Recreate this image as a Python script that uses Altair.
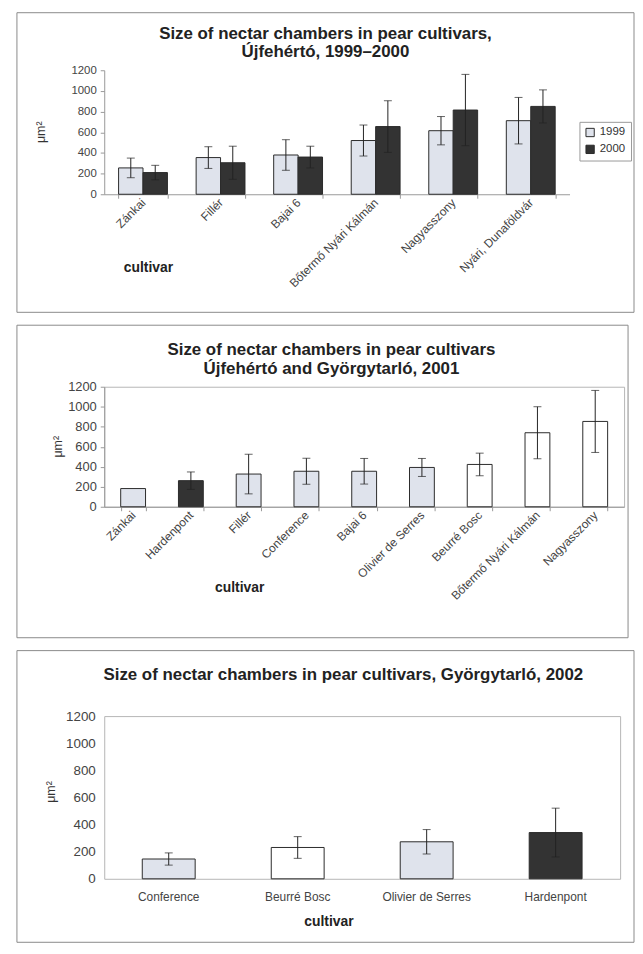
import altair as alt
import pandas as pd

# ---------------- data ----------------
years = ["1999", "2000"]

p1_cultivars = ["Zánkai", "Fillér", "Bajai 6", "Bőtermő Nyári Kálmán",
                "Nagyasszony", "Nyári, Dunaföldvár"]
p1_mean_1999 = [255, 355, 380, 520, 615, 712]
p1_err_1999 = [95, 105, 148, 150, 137, 225]
p1_mean_2000 = [210, 305, 360, 655, 815, 850]
p1_err_2000 = [70, 160, 105, 250, 345, 160]

p2_cultivars = ["Zánkai", "Hardenpont", "Fillér", "Conference", "Bajai 6",
                "Olivier de Serres", "Beurré Bosc", "Bőtermő Nyári Kálmán",
                "Nagyasszony"]
p2_mean = [182, 261, 327, 355, 355, 393, 423, 740, 853]
p2_err = [None, 87, 198, 130, 128, 90, 113, 260, 310]

p3_cultivars = ["Conference", "Beurré Bosc", "Olivier de Serres", "Hardenpont"]
p3_mean = [146, 231, 273, 341]
p3_err = [45, 80, 90, 180]

y_ticks = [0, 200, 400, 600, 800, 1000, 1200]

title1 = ["Size of nectar chambers in pear cultivars,", "Újfehértó, 1999–2000"]
title2 = ["Size of nectar chambers in pear cultivars", "Újfehértó and Györgytarló, 2001"]
title3 = "Size of nectar chambers in pear cultivars, Györgytarló, 2002"

# ---------------- styles ----------------
FONT = "Liberation Sans"
LIGHT = "#dfe3ec"
DARK = "#333333"
WHITE = "#ffffff"
EDGE = "#2b2b2b"
BOX = "#8a8a8a"
shade = {"Zánkai": LIGHT, "Hardenpont": DARK, "Fillér": LIGHT,
         "Conference": LIGHT, "Bajai 6": LIGHT, "Olivier de Serres": LIGHT,
         "Beurré Bosc": WHITE, "Bőtermő Nyári Kálmán": WHITE,
         "Nagyasszony": WHITE}

box_data = pd.DataFrame({"k": [0]})
y_scale = alt.Scale(domain=[0, 1200], nice=False, zero=True)


def frame(x0, x1, y0, y1):
    return alt.Chart(box_data).mark_rect(
        fill="transparent", stroke=BOX, strokeWidth=1
    ).encode(x=alt.value(x0), x2=alt.value(x1), y=alt.value(y0), y2=alt.value(y1))


def heading(text, x, y, size=17):
    return alt.Chart(box_data).mark_text(
        fontSize=size, fontWeight="bold", font=FONT, color="#222",
        align="center", baseline="middle"
    ).encode(x=alt.value(x), y=alt.value(y), text=alt.value(text))


def y_axis(tx, ty, label_size, ticks=True, domain=True, pad=4):
    return alt.Axis(values=y_ticks, format="d", labelOverlap=False,
                    title="μm²", titleX=tx, titleY=ty,
                    titleAngle=-90, titleAlign="center", titleBaseline="middle",
                    titleFontSize=12.5, titleFontWeight="normal", titleColor="#333",
                    labelFontSize=label_size, labelColor="#444", labelPadding=pad,
                    ticks=ticks, tickSize=4, tickColor="#999",
                    domain=domain, domainColor="#999", grid=False)


def x_axis_rot(tx, ty):
    return alt.Axis(title="cultivar", titleX=tx, titleY=ty,
                    titleAlign="center", titleBaseline="middle",
                    titleFontSize=14, titleFontWeight="bold", titleColor="#222",
                    labelAngle=-45, labelAlign="right", labelBaseline="middle",
                    labelFontSize=12, labelColor="#444", labelPadding=2,
                    labelOverlap=False, tickBand="extent", tickSize=4,
                    tickColor="#999", domainColor="#999")


def error_layers(df, x, ax, xo=None):
    enc = {"x": x}
    if xo is not None:
        enc["xOffset"] = xo
    rule = alt.Chart(df).mark_rule(color="#222", strokeWidth=1).encode(
        y=alt.Y("lo:Q", scale=y_scale, axis=ax), y2="hi:Q", **enc)
    cap_hi = alt.Chart(df).mark_tick(color="#222", size=8, thickness=1).encode(
        y=alt.Y("hi:Q", scale=y_scale, axis=ax), **enc)
    cap_lo = alt.Chart(df).mark_tick(color="#222", size=8, thickness=1).encode(
        y=alt.Y("lo:Q", scale=y_scale, axis=ax), **enc)
    return [rule, cap_hi, cap_lo]


# ---------------- panel 1 ----------------
df1 = pd.DataFrame({
    "cultivar": p1_cultivars * 2,
    "year": [years[0]] * len(p1_cultivars) + [years[1]] * len(p1_cultivars),
    "mean": p1_mean_1999 + p1_mean_2000,
    "err": p1_err_1999 + p1_err_2000,
})
df1["lo"] = df1["mean"] - df1["err"]
df1["hi"] = df1["mean"] + df1["err"]

W1, H1 = 469, 125
ax1 = y_axis(-64, 62, 11.5)
x1 = alt.X("cultivar:N", sort=p1_cultivars,
           scale=alt.Scale(paddingInner=0.37, paddingOuter=0.185),
           axis=x_axis_rot(44, 74))
xo1 = alt.XOffset("year:N", sort=years, scale=alt.Scale(paddingInner=0, paddingOuter=0))

bars1 = alt.Chart(df1).mark_bar(stroke=EDGE, strokeWidth=1).encode(
    x=x1, xOffset=xo1, y=alt.Y("mean:Q", scale=y_scale, axis=ax1),
    fill=alt.Fill("year:N", scale=alt.Scale(domain=years, range=[LIGHT, DARK]),
                  legend=alt.Legend(title=None, orient="none", legendX=479, legendY=52,
                                    strokeColor="#999", padding=5,
                                    symbolType="square", symbolSize=70,
                                    symbolStrokeColor=EDGE, symbolStrokeWidth=1,
                                    labelFontSize=11.5, labelColor="#333",
                                    labelFont=FONT, rowPadding=4)))

panel1 = alt.layer(
    frame(-88, W1 + 65, -58, H1 + 119),
    heading(title1[0], 223, -36), heading(title1[1], 223, -18),
    bars1, *error_layers(df1, x1, ax1, xo1)
).properties(width=W1, height=H1)

# ---------------- panel 2 ----------------
df2 = pd.DataFrame({"cultivar": p2_cultivars, "mean": p2_mean, "err": p2_err})
df2["fill"] = df2["cultivar"].map(shade)
df2e = df2.dropna(subset=["err"]).copy()
df2e["lo"] = df2e["mean"] - df2e["err"]
df2e["hi"] = df2e["mean"] + df2e["err"]

W2, H2 = 524, 121
ax2 = y_axis(-47, 60, 13)
x2 = alt.X("cultivar:N", sort=p2_cultivars,
           scale=alt.Scale(paddingInner=0.57, paddingOuter=0.285),
           axis=x_axis_rot(136, 81))

bars2 = alt.Chart(df2).mark_bar(stroke=EDGE, strokeWidth=1).encode(
    x=x2, y=alt.Y("mean:Q", scale=y_scale, axis=ax2),
    fill=alt.Fill("fill:N", scale=None))

panel2 = alt.layer(
    frame(-88, W2 + 4, -62, H2 + 132),
    heading(title2[0], 229, -37), heading(title2[1], 229, -18),
    bars2, *error_layers(df2e, x2, ax2)
).properties(width=W2, height=H2,
             view=alt.ViewBackground(stroke="#b5b5b5", strokeWidth=1))

# ---------------- panel 3 ----------------
df3 = pd.DataFrame({"cultivar": p3_cultivars, "mean": p3_mean, "err": p3_err})
df3["fill"] = df3["cultivar"].map(shade)
df3["lo"] = df3["mean"] - df3["err"]
df3["hi"] = df3["mean"] + df3["err"]

W3, H3 = 520, 164
ax3 = y_axis(-54, 76, 13.5, ticks=False, domain=False, pad=9)
x3 = alt.X("cultivar:N", sort=p3_cultivars,
           scale=alt.Scale(paddingInner=0.59, paddingOuter=0.295),
           axis=alt.Axis(title="cultivar", titleX=226, titleY=43,
                         titleAlign="center", titleBaseline="middle",
                         titleFontSize=14, titleFontWeight="bold", titleColor="#222",
                         labelAngle=0, labelFontSize=12, labelColor="#444",
                         labelPadding=13, ticks=False, domain=False))

bars3 = alt.Chart(df3).mark_bar(stroke=EDGE, strokeWidth=1).encode(
    x=x3, y=alt.Y("mean:Q", scale=y_scale, axis=ax3),
    fill=alt.Fill("fill:N", scale=None))

panel3 = alt.layer(
    frame(-88, W3 + 14, -66, H3 + 64),
    heading(title3, 241, -41),
    bars3, *error_layers(df3, x3, ax3)
).properties(width=W3, height=H3,
             view=alt.ViewBackground(stroke="#b5b5b5", strokeWidth=1))

chart = alt.ConcatChart(
    concat=[panel1, panel2, panel3], columns=1, align="none", spacing=11, bounds="full"
).properties(
    padding={"left": 8, "top": 0, "right": 0, "bottom": 0}
).configure(
    font=FONT
).configure_view(
    strokeWidth=0
).configure_axis(
    labelFont=FONT, titleFont=FONT
)

chart.save("out.html", embed_options={"renderer": "svg", "actions": False})
